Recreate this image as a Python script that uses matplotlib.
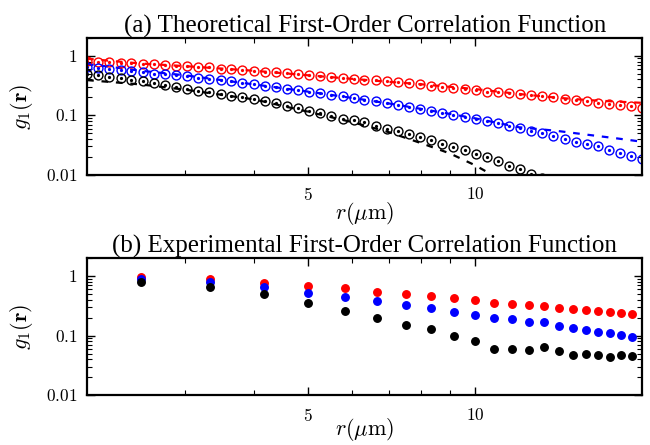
import matplotlib
matplotlib.use("Agg")
import matplotlib.pyplot as plt
from matplotlib.ticker import FixedLocator, FixedFormatter, LogLocator, NullFormatter

plt.rcParams['mathtext.fontset'] = 'cm'
plt.rcParams['font.family'] = ['Liberation Serif', 'DejaVu Serif']

# theory: sampled radii (um) for the open circles
r_theo = [2.00, 2.09, 2.19, 2.30, 2.40, 2.52, 2.64, 2.76, 2.89, 3.03,
          3.17, 3.32, 3.48, 3.64, 3.81, 3.99, 4.18, 4.38, 4.58, 4.80,
          5.02, 5.26, 5.51, 5.77, 6.04, 6.32, 6.62, 6.94, 7.26, 7.60,
          7.96, 8.34, 8.73, 9.14, 9.57, 10.02, 10.50, 10.99, 11.51, 12.05,
          12.62, 13.21, 13.84, 14.49, 15.17, 15.89, 16.63, 17.42, 18.24, 19.10,
          20.00]
theo_red = [0.83, 0.80, 0.785, 0.76, 0.75, 0.73, 0.715, 0.70, 0.68, 0.67,
            0.66, 0.64, 0.61, 0.595, 0.575, 0.56, 0.54, 0.525, 0.505, 0.49,
            0.47, 0.455, 0.44, 0.425, 0.41, 0.397, 0.385, 0.37, 0.356, 0.345,
            0.334, 0.315, 0.30, 0.287, 0.275, 0.263, 0.251, 0.243, 0.236, 0.228,
            0.221, 0.21, 0.20, 0.191, 0.182, 0.173, 0.164, 0.157, 0.15, 0.142,
            0.135]
theo_blue = [0.64, 0.62, 0.60, 0.566, 0.546, 0.53, 0.50, 0.49, 0.467, 0.45,
             0.425, 0.407, 0.39, 0.37, 0.35, 0.33, 0.315, 0.30, 0.28, 0.265,
             0.25, 0.237, 0.222, 0.208, 0.195, 0.182, 0.171, 0.16, 0.149, 0.139,
             0.129, 0.12, 0.111, 0.103, 0.095, 0.088, 0.081, 0.074, 0.067, 0.061,
             0.0556, 0.050, 0.0452, 0.0405, 0.0363, 0.0328, 0.030, 0.0265, 0.0237, 0.021,
             0.0184]
theo_black = [0.50, 0.48, 0.44, 0.42, 0.395, 0.37, 0.347, 0.317, 0.294, 0.275,
              0.261, 0.245, 0.227, 0.213, 0.20, 0.187, 0.176, 0.16, 0.145, 0.132,
              0.12, 0.109, 0.097, 0.088, 0.083, 0.076, 0.066, 0.059, 0.055, 0.048,
              0.043, 0.038, 0.033, 0.029, 0.0257, 0.0223, 0.0196, 0.0168, 0.0143, 0.0125,
              0.0104, 0.0089, 0.0076]

# theory: dashed curves
r_line = [2, 2.5, 3, 4, 5, 6, 7, 8, 10, 12, 14, 16, 18, 20]
line_red = [0.89, 0.74, 0.67, 0.56, 0.47, 0.41, 0.365, 0.332, 0.276, 0.228, 0.198, 0.18, 0.17, 0.162]
line_blue = [0.73, 0.56, 0.47, 0.33, 0.25, 0.196, 0.158, 0.128, 0.089, 0.063, 0.055, 0.047, 0.041, 0.036]
r_line_black = [2, 2.5, 3, 4, 5, 6, 7, 8, 9, 10, 11, 12]
line_black = [0.39, 0.33, 0.27, 0.185, 0.115, 0.077, 0.052, 0.034, 0.023, 0.0145, 0.0088, 0.0055]

# experiment
r_exp = [2.5, 3.33, 4.17, 5.0, 5.83, 6.67, 7.5, 8.33, 9.17, 10.0, 10.83,
         11.67, 12.5, 13.33, 14.17, 15.0, 15.83, 16.67, 17.5, 18.33, 19.17]
exp_red = [0.95, 0.88, 0.75, 0.68, 0.62, 0.545, 0.492, 0.461, 0.422, 0.395, 0.356,
           0.334, 0.326, 0.313, 0.294, 0.276, 0.268, 0.258, 0.245, 0.242, 0.23]
exp_blue = [0.88, 0.78, 0.66, 0.525, 0.45, 0.38, 0.326, 0.294, 0.251, 0.221, 0.194,
            0.187, 0.167, 0.167, 0.146, 0.132, 0.124, 0.116, 0.109, 0.102, 0.0955]
exp_black = [0.80, 0.66, 0.49, 0.35, 0.26, 0.194, 0.15, 0.128, 0.098, 0.081, 0.0586,
             0.0593, 0.057, 0.065, 0.055, 0.047, 0.05, 0.047, 0.044, 0.047, 0.045]

RED, BLUE, BLACK = '#ff0000', '#0000ff', '#000000'

fig = plt.figure(figsize=(6.5, 4.45), dpi=100)
ax1 = fig.add_axes([0.134, 0.607, 0.854, 0.308])
ax2 = fig.add_axes([0.134, 0.112, 0.854, 0.308])

# (a) theory
for r, y, c in [(r_line, line_red, RED), (r_line, line_blue, BLUE), (r_line_black, line_black, BLACK)]:
    ax1.plot(r, y, color=c, lw=1.6, dashes=(3, 3.5))
for y, c in [(theo_red, RED), (theo_blue, BLUE), (theo_black, BLACK)]:
    ax1.plot(r_theo[:len(y)], y, ls='none', marker='o', ms=6.4, mfc='none', mec=c, mew=1.0)
    ax1.plot(r_theo[:len(y)], y, ls='none', marker='o', ms=1.3, color=c)

# (b) experiment
for y, c in [(exp_red, RED), (exp_blue, BLUE), (exp_black, BLACK)]:
    ax2.plot(r_exp, y, ls='none', marker='o', ms=5.4, color=c)

titles = ['(a) Theoretical First-Order Correlation Function',
          '(b) Experimental First-Order Correlation Function']
for ax, t, lp in zip([ax1, ax2], titles, [-3, -6]):
    ax.set_xscale('log')
    ax.set_yscale('log')
    ax.set_xlim(2, 20)
    ax.set_ylim(0.01, 2)
    ax.xaxis.set_major_locator(FixedLocator([5, 10]))
    ax.xaxis.set_major_formatter(FixedFormatter(['$5$', '$10$']))
    ax.xaxis.set_minor_locator(FixedLocator([3, 4, 6, 7, 8, 9]))
    ax.xaxis.set_minor_formatter(NullFormatter())
    ax.yaxis.set_major_locator(FixedLocator([0.01, 0.1, 1]))
    ax.yaxis.set_major_formatter(FixedFormatter(['$0.01$', '$0.1$', '$1$']))
    ax.yaxis.set_minor_locator(LogLocator(base=10, subs=range(2, 10)))
    ax.yaxis.set_minor_formatter(NullFormatter())
    ax.tick_params(which='both', direction='in', top=True, right=True, labelsize=12.5)
    ax.tick_params(which='major', length=6, width=1.0)
    ax.tick_params(axis='x', which='major', pad=9)
    ax.tick_params(axis='y', which='major', pad=7)
    ax.tick_params(which='minor', length=3.5, width=0.8)
    for s in ax.spines.values():
        s.set_linewidth(1.6)
    ax.set_title(t, fontsize=18, pad=4)
    ax.set_xlabel(r'$r(\mu\mathrm{m})$', fontsize=16, labelpad=lp)
    ax.set_ylabel(r'$g_1(\mathbf{r})$', fontsize=16, labelpad=8)

fig.savefig('out.png', dpi=100)
